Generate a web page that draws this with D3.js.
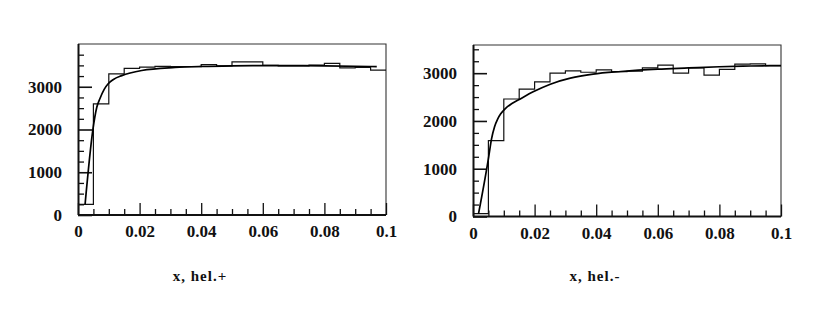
<!DOCTYPE html>
<html>
<head>
<meta charset="utf-8">
<script src="https://cdn.jsdelivr.net/npm/d3@7"></script>
<style>
  body { margin: 0; background: #fff; }
  #canvas { width: 840px; height: 311px; }
  .tick text { font-family: "Liberation Serif", "DejaVu Serif", serif; font-weight: bold; font-size: 17px; fill: #111; }
  .title { font-family: "Liberation Serif", "DejaVu Serif", serif; font-weight: bold; font-size: 15px; letter-spacing: 1px; fill: #111; }
</style>
</head>
<body>
<div id="canvas"></div>
<script>
// bin edges shared by both histograms (width 0.005)
const binEdges = d3.range(0, 21).map(i => +(i * 0.005).toFixed(3));

// histogram contents
const posCounts = [250, 2600, 3300, 3430, 3460, 3475, 3470, 3470, 3520, 3490,
                   3580, 3580, 3500, 3490, 3490, 3505, 3545, 3440, 3450, 3390];
const negCounts = [60, 1590, 2460, 2665, 2820, 3000, 3050, 3020, 3070, 3030,
                   3040, 3110, 3170, 3000, 3110, 2960, 3080, 3190, 3195, 3160];

// fitted curves, points
const posFitX = [0.0023, 0.0048, 0.0061, 0.0071, 0.0085, 0.0098, 0.0115, 0.0142, 0.0207, 0.0315, 0.04, 0.05, 0.06, 0.08, 0.097];
const posFitY = [250, 1980, 2520, 2720, 2940, 3070, 3170, 3260, 3380, 3450, 3475, 3490, 3495, 3490, 3470];
const negFitX = [0.0018, 0.0051, 0.006, 0.007, 0.008, 0.009, 0.0105, 0.0125, 0.015, 0.0197, 0.0251, 0.0316, 0.039, 0.048, 0.06, 0.07, 0.08, 0.09, 0.1];
const negFitY = [60, 1250, 1620, 1880, 2040, 2150, 2260, 2360, 2450, 2615, 2770, 2895, 2980, 3035, 3085, 3110, 3135, 3150, 3160];

const xMajor = [0, 0.02, 0.04, 0.06, 0.08, 0.1];
const yMajor = [0, 1000, 2000, 3000];
const titles = ["x, hel.+", "x, hel.-"];

const W = 840, H = 311;
const svg = d3.select("#canvas").append("svg")
    .attr("width", W).attr("height", H)
    .attr("viewBox", [0, 0, W, H]);

const panels = [
  { left: 78, right: 386, top: 44, bottom: 215, ymax: 4000, counts: posCounts, fx: posFitX, fy: posFitY, title: titles[0], tx: 200 },
  { left: 473, right: 781, top: 45, bottom: 216.5, ymax: 3590, counts: negCounts, fx: negFitX, fy: negFitY, title: titles[1], tx: 595 }
];

panels.forEach(drawPanel);

function drawPanel(p) {
  const x = d3.scaleLinear().domain([0, 0.1]).range([p.left, p.right]);
  const y = d3.scaleLinear().domain([0, p.ymax]).range([p.bottom, p.top]);
  const g = svg.append("g");

  // frame: thin top / right
  g.append("path")
    .attr("d", `M${p.left},${p.top}H${p.right}V${p.bottom}`)
    .attr("fill", "none").attr("stroke", "#333").attr("stroke-width", 1.1);

  // minor ticks
  const yMinor = d3.range(0, p.ymax, 250).filter(v => v % 1000 !== 0);
  const xMinor = d3.range(1, 20).map(i => +(i * 0.005).toFixed(3)).filter(v => Math.round(v * 1000) % 20 !== 0);

  g.append("g").attr("transform", `translate(${p.left},0)`)
    .call(d3.axisLeft(y).tickValues(yMinor).tickSize(-6).tickFormat(""))
    .call(a => a.select(".domain").remove())
    .selectAll("line").attr("stroke", "#111").attr("stroke-width", 1.3);
  g.append("g").attr("transform", `translate(0,${p.bottom})`)
    .call(d3.axisBottom(x).tickValues(xMinor).tickSize(-6).tickFormat(""))
    .call(a => a.select(".domain").remove())
    .selectAll("line").attr("stroke", "#111").attr("stroke-width", 1.3);

  // major ticks + labels
  const gy = g.append("g").attr("transform", `translate(${p.left},0)`)
    .call(d3.axisLeft(y).tickValues(yMajor).tickSize(-14).tickPadding(16).tickFormat(d3.format("d")));
  gy.select(".domain").attr("d", `M0.5,${p.top}V${p.bottom}`).attr("stroke", "#111").attr("stroke-width", 2);
  gy.selectAll(".tick line").attr("stroke", "#111").attr("stroke-width", 1.6);

  const gx = g.append("g").attr("transform", `translate(0,${p.bottom})`)
    .call(d3.axisBottom(x).tickValues(xMajor).tickSize(-12).tickPadding(10)
      .tickFormat(d => d === 0 ? "0" : String(+d.toFixed(2))));
  gx.select(".domain").attr("d", `M${p.left},0H${p.right}`).attr("stroke", "#111").attr("stroke-width", 2);
  gx.selectAll(".tick line").attr("stroke", "#111").attr("stroke-width", 1.3);

  // histogram outline
  const steps = [];
  p.counts.forEach((c, i) => {
    steps.push([binEdges[i], c]);
    steps.push([binEdges[i + 1], c]);
  });
  g.append("path")
    .datum(steps)
    .attr("d", d3.line().x(d => x(d[0])).y(d => y(d[1])))
    .attr("fill", "none").attr("stroke", "#111").attr("stroke-width", 1.2);

  // fit curve
  const fit = p.fx.map((v, i) => [v, p.fy[i]]);
  g.append("path")
    .datum(fit)
    .attr("d", d3.line().x(d => x(d[0])).y(d => y(d[1])).curve(d3.curveMonotoneX))
    .attr("fill", "none").attr("stroke", "#000").attr("stroke-width", 1.7);

  g.append("text").attr("class", "title")
    .attr("x", p.tx).attr("y", 281)
    .attr("text-anchor", "middle")
    .text(p.title);
}
</script>
</body>
</html>
